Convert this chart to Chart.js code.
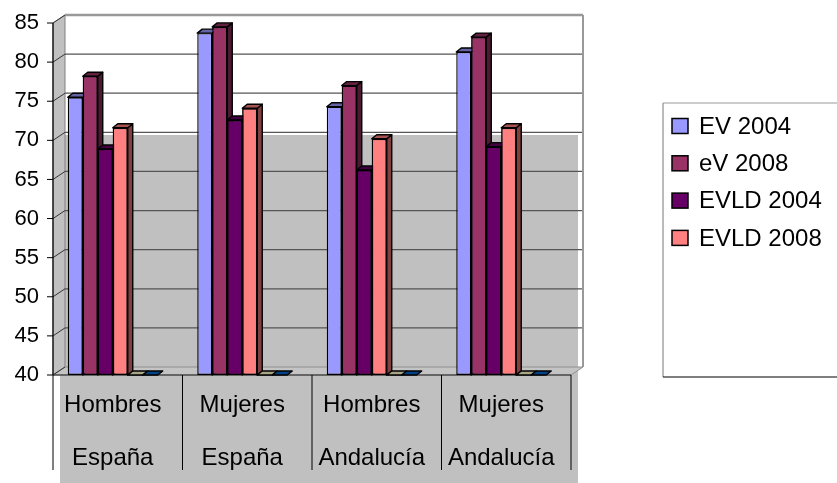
<!DOCTYPE html>
<html>
<head>
<meta charset="utf-8">
<script src="https://cdn.jsdelivr.net/npm/chart.js@4.4.0/dist/chart.umd.min.js"></script>
<style>
body { margin: 0; background: #fff; }
</style>
</head>
<body>
<canvas id="chart" width="837" height="483"></canvas>
<script>
var categories = [['Hombres', 'España'], ['Mujeres', 'España'], ['Hombres', 'Andalucía'], ['Mujeres', 'Andalucía']];
var ev2004   = [75.5, 83.7, 74.3, 81.3];
var ev2008   = [78.2, 84.5, 77.0, 83.2];
var evld2004 = [68.9, 72.6, 66.2, 69.2];
var evld2008 = [71.6, 74.1, 70.2, 71.6];
// two empty series that Excel still draws flat on the floor
var serie5   = [40, 40, 40, 40];
var serie6   = [40, 40, 40, 40];
var yMin = 40, yMax = 85, yStep = 5;

var DX = 5, DY = -4;     // bar depth
var WX = 12, WY = -8;    // wall depth
var SHIFT = 5;

function shade(hex, f) {
	var n = parseInt(hex.slice(1), 16);
	var r = Math.round(((n >> 16) & 255) * f);
	var g = Math.round(((n >> 8) & 255) * f);
	var b = Math.round((n & 255) * f);
	return 'rgb(' + r + ',' + g + ',' + b + ')';
}

function poly(ctx, pts, fill, stroke, lw) {
	ctx.beginPath();
	ctx.moveTo(pts[0][0], pts[0][1]);
	for (var i = 1; i < pts.length; i++) ctx.lineTo(pts[i][0], pts[i][1]);
	ctx.closePath();
	if (fill) { ctx.fillStyle = fill; ctx.fill(); }
	if (stroke) { ctx.strokeStyle = stroke; ctx.lineWidth = lw || 1; ctx.stroke(); }
}

function line(ctx, x1, y1, x2, y2, color, lw) {
	ctx.beginPath();
	ctx.moveTo(x1, y1);
	ctx.lineTo(x2, y2);
	ctx.strokeStyle = color;
	ctx.lineWidth = lw || 1;
	ctx.stroke();
}

var wallPlugin = {
	id: 'wall',
	beforeDraw: function(chart) {
		var ctx = chart.ctx, a = chart.chartArea, ys = chart.scales.y;
		var fl = a.left + SHIFT, fr = a.right + SHIFT, top = a.top, bot = a.bottom;
		ctx.save();
		// grey patch behind the lower half
		ctx.fillStyle = '#c0c0c0';
		ctx.fillRect(fl + 7, 135, fr - fl, chart.height - 135);
		// left wall and floor
		poly(ctx, [[fl, top], [fl + WX, top + WY], [fl + WX, bot + WY], [fl, bot]], '#c0c0c0', '#808080', 1);
		poly(ctx, [[fl, bot], [fr, bot], [fr + WX, bot + WY], [fl + WX, bot + WY]], '#c4c4c4', '#909090', 1);
		// grid lines
		for (var v = yMin; v <= yMax; v += yStep) {
			var yf = ys.getPixelForValue(v), yb = yf + WY;
			if (v == yMax) {
				line(ctx, fl + WX, yb, fr + WX, yb, '#999', 2.5);
			} else if (v > yMin) {
				line(ctx, fl + WX, yb, fr + WX, yb, '#555', 1.3);
			}
			line(ctx, fl, yf, fl + WX, yb, '#333', 1);
			line(ctx, fl - 6, yf, fl, yf, '#000', 1);
		}
		line(ctx, fr + WX, top + WY, fr + WX, bot + WY, '#999', 2);
		line(ctx, fl, top, fl, bot, '#000', 1.2);
		line(ctx, fl, bot, fr, bot, '#222', 1.2);
		// category separators
		var catW = (a.right - a.left) / categories.length;
		for (var k = 0; k <= categories.length; k++) {
			var x = fl + k * catW;
			line(ctx, x, bot, x, bot + 95, '#000', 1);
		}
		ctx.restore();
	},
	afterDatasetsDraw: function(chart) {
		var ctx = chart.ctx;
		var n = chart.data.datasets.length;
		ctx.save();
		ctx.lineJoin = 'round';
		for (var j = 0; j < categories.length; j++) {
			for (var i = 0; i < n; i++) {
				var ds = chart.data.datasets[i];
				var bar = chart.getDatasetMeta(i).data[j];
				var l = bar.x - bar.width / 2, r = bar.x + bar.width / 2, t = bar.y, b = bar.base;
				if (b - t > 0.5) {
					poly(ctx, [[r, t], [r + DX, t + DY], [r + DX, b + DY], [r, b]], shade(ds.backgroundColor, 0.5), '#000', 1.4);
				}
				poly(ctx, [[l, t], [l + DX, t + DY], [r + DX, t + DY], [r, t]], shade(ds.backgroundColor, 0.65), '#000', 1.4);
				if (i + 1 < n) chart.getDatasetMeta(i + 1).data[j].draw(ctx);
			}
		}
		ctx.restore();
	}
};

var legendPlugin = {
	id: 'sideLegend',
	afterDraw: function(chart) {
		var ctx = chart.ctx;
		ctx.save();
		line(ctx, 663, 103, 663, 377, '#777', 1);
		line(ctx, 663, 103, 840, 103, '#999', 1);
		line(ctx, 663, 377, 840, 377, '#000', 1);
		ctx.font = '24px "Liberation Sans", Arial, sans-serif';
		ctx.textBaseline = 'middle';
		ctx.fillStyle = '#000';
		var row = 0;
		chart.data.datasets.forEach(function(ds) {
			if (!ds.label) return;
			var cy = 126 + row * 37.3;
			ctx.fillStyle = ds.backgroundColor;
			ctx.fillRect(672, cy - 7.5, 16, 15);
			ctx.strokeStyle = '#000';
			ctx.lineWidth = 1.5;
			ctx.strokeRect(672, cy - 7.5, 16, 15);
			ctx.fillStyle = '#000';
			ctx.fillText(ds.label, 699, cy + 1);
			row++;
		});
		ctx.restore();
	}
};

function dataset(label, data, color) {
	return { label: label, data: data, base: yMin, backgroundColor: color, borderColor: '#000', borderWidth: 1.4, borderSkipped: false };
}

new Chart(document.getElementById('chart'), {
	type: 'bar',
	data: {
		labels: categories,
		datasets: [
			dataset('EV 2004', ev2004, '#9999ff'),
			dataset('eV 2008', ev2008, '#993366'),
			dataset('EVLD 2004', evld2004, '#660066'),
			dataset('EVLD 2008', evld2008, '#ff8080'),
			dataset('', serie5, '#ffffcc'),
			dataset('', serie6, '#0066cc')
		]
	},
	options: {
		responsive: false,
		animation: false,
		layout: { padding: { left: 0, right: 271, top: 23, bottom: 0 } },
		datasets: { bar: { categoryPercentage: 0.695, barPercentage: 1 } },
		plugins: {
			legend: { display: false },
			tooltip: { enabled: false }
		},
		scales: {
			x: {
				afterFit: function(scale) { scale.height = 108; },
				grid: { display: false, drawTicks: false },
				border: { display: false },
				ticks: {
					color: '#000',
					padding: 4,
					maxRotation: 0,
					autoSkip: false,
					font: { family: '"Liberation Sans", Arial, sans-serif', size: 24, lineHeight: '53px' }
				}
			},
			y: {
				min: yMin,
				max: yMax,
				afterFit: function(scale) { scale.width = 48; },
				grid: { display: false, drawTicks: false },
				border: { display: false },
				ticks: {
					stepSize: yStep,
					color: '#000',
					padding: 9,
					font: { family: '"Liberation Sans", Arial, sans-serif', size: 22 }
				}
			}
		}
	},
	plugins: [wallPlugin, legendPlugin]
});
</script>
</body>
</html>
